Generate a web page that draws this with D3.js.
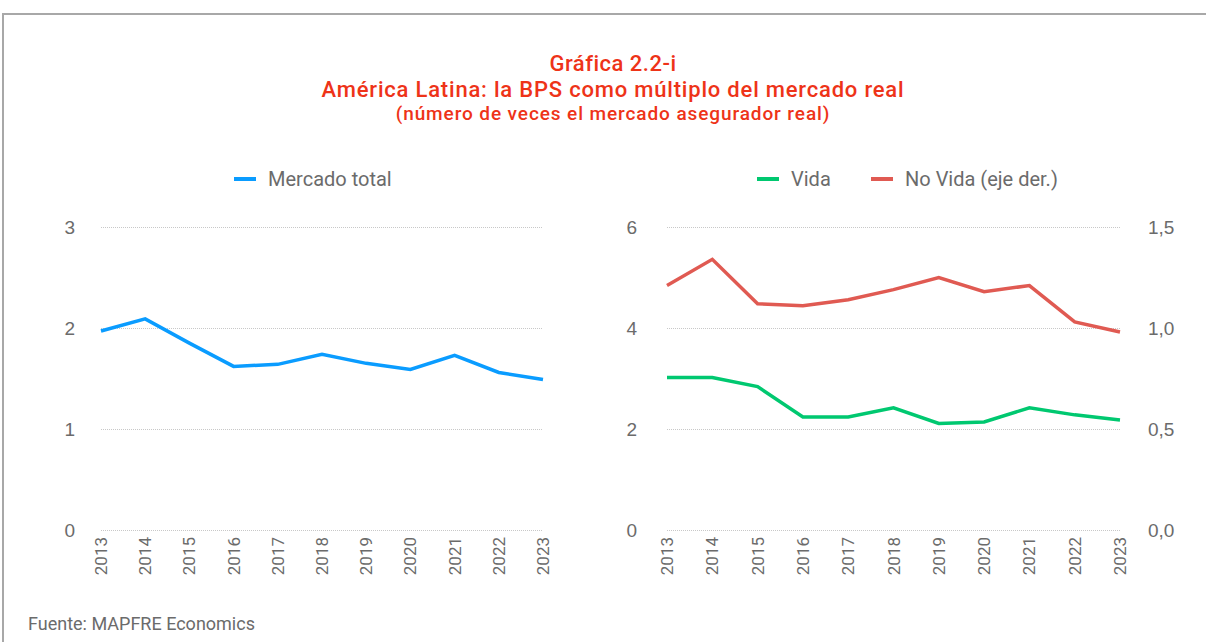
<!DOCTYPE html>
<html>
<head>
<meta charset="utf-8">
<script src="https://cdn.jsdelivr.net/npm/d3@7"></script>
<style>
  body { margin: 0; background: #fff; }
  svg { display: block; font-family: Roboto, "Noto Sans", sans-serif; }
  .grid line { stroke: #c8c8c8; stroke-dasharray: 1,1; }
  .grid path { display: none; }
  .tick text { fill: #6b6b6b; }
</style>
</head>
<body>
<div id="chart"></div>
<script>
// data
const years = ["2013","2014","2015","2016","2017","2018","2019","2020","2021","2022","2023"];
const mercadoTotal = [1.97, 2.09, 1.85, 1.62, 1.64, 1.74, 1.65, 1.59, 1.73, 1.56, 1.49];
const vida = [3.02, 3.02, 2.84, 2.24, 2.24, 2.42, 2.11, 2.14, 2.42, 2.28, 2.18];
const noVida = [1.21, 1.34, 1.12, 1.11, 1.14, 1.19, 1.25, 1.18, 1.21, 1.03, 0.98];
const leftTicks = [0, 1, 2, 3];
const rightLeftTicks = [0, 2, 4, 6];
const rightRightTicks = [0, 0.5, 1.0, 1.5];

const titleLines = ["Gráfica 2.2-i", "América Latina: la BPS como múltiplo del mercado real", "(número de veces el mercado asegurador real)"];

const width = 1206, height = 642;
const svg = d3.select("#chart").append("svg")
    .attr("width", width)
    .attr("height", height);

// frame
svg.append("path")
    .attr("d", `M3,${height} V14 H${width}`)
    .attr("fill", "none")
    .attr("stroke", "#a8a8a8")
    .attr("stroke-width", 2);

// title
const titleSizes = [22, 22, 19];
const titleSpacing = [0.5, 0.8, 0.9];
const titleY = [71, 97, 120];
svg.selectAll("text.title")
    .data(titleLines)
    .join("text")
    .attr("class", "title")
    .attr("x", 613)
    .attr("y", (d, i) => titleY[i])
    .attr("text-anchor", "middle")
    .attr("font-size", (d, i) => titleSizes[i])
    .attr("font-weight", 500)
    .attr("letter-spacing", (d, i) => titleSpacing[i])
    .attr("fill", "#ee3318")
    .text(d => d);

const plotTop = 227, plotBottom = 530;

function drawYearAxis(x) {
    const g = svg.append("g")
        .attr("transform", `translate(0,${plotBottom})`);
    g.selectAll("text")
        .data(years)
        .join("text")
        .attr("transform", d => `translate(${x(d) + 6},7) rotate(-90)`)
        .attr("text-anchor", "end")
        .attr("font-size", 17)
        .attr("fill", "#6b6b6b")
        .text(d => d);
}

//#region left chart
const xL = d3.scalePoint().domain(years).range([101, 543]);
const yL = d3.scaleLinear().domain([0, 3]).range([plotBottom, plotTop]);

svg.append("g")
    .attr("class", "grid")
    .attr("transform", "translate(101,0)")
    .call(d3.axisLeft(yL).tickValues(leftTicks).tickSize(-442).tickPadding(26).tickFormat(d3.format("d")))
    .call(g => g.selectAll("text").attr("font-size", 19));

drawYearAxis(xL);

svg.append("path")
    .datum(mercadoTotal)
    .attr("fill", "none")
    .attr("stroke", "#0a9cff")
    .attr("stroke-width", 3.5)
    .attr("d", d3.line().x((d, i) => xL(years[i])).y(d => yL(d)));
//#endregion

//#region right chart
const xR = d3.scalePoint().domain(years).range([667, 1120]);
const yR1 = d3.scaleLinear().domain([0, 6]).range([plotBottom, plotTop]);
const yR2 = d3.scaleLinear().domain([0, 1.5]).range([plotBottom, plotTop]);

svg.append("g")
    .attr("class", "grid")
    .attr("transform", "translate(667,0)")
    .call(d3.axisLeft(yR1).tickValues(rightLeftTicks).tickSize(-453).tickPadding(30).tickFormat(d3.format("d")))
    .call(g => g.selectAll("text").attr("font-size", 19));

svg.append("g")
    .attr("transform", "translate(1120,0)")
    .call(d3.axisRight(yR2).tickValues(rightRightTicks).tickSize(0).tickPadding(28)
        .tickFormat(d => d3.format(".1f")(d).replace(".", ",")))
    .call(g => g.select(".domain").remove())
    .call(g => g.selectAll("text").attr("font-size", 19));

drawYearAxis(xR);

svg.append("path")
    .datum(noVida)
    .attr("fill", "none")
    .attr("stroke", "#e05a52")
    .attr("stroke-width", 3.5)
    .attr("d", d3.line().x((d, i) => xR(years[i])).y(d => yR2(d)));

svg.append("path")
    .datum(vida)
    .attr("fill", "none")
    .attr("stroke", "#00c870")
    .attr("stroke-width", 3.5)
    .attr("d", d3.line().x((d, i) => xR(years[i])).y(d => yR1(d)));
//#endregion

//#region legends
const legendItems = [
    { label: "Mercado total", color: "#0a9cff", x: 234 },
    { label: "Vida", color: "#00c870", x: 757 },
    { label: "No Vida (eje der.)", color: "#e05a52", x: 871 }
];
const leg = svg.selectAll("g.legend")
    .data(legendItems)
    .join("g")
    .attr("class", "legend")
    .attr("transform", d => `translate(${d.x},179)`);
leg.append("line")
    .attr("x1", 0).attr("x2", 22)
    .attr("stroke", d => d.color)
    .attr("stroke-width", 4);
leg.append("text")
    .attr("x", 34)
    .attr("y", 7)
    .attr("font-size", 20)
    .attr("fill", "#6b6b6b")
    .text(d => d.label);
//#endregion

svg.append("text")
    .attr("x", 28)
    .attr("y", 630)
    .attr("font-size", 18)
    .attr("fill", "#6b6b6b")
    .text("Fuente: MAPFRE Economics");
</script>
</body>
</html>
